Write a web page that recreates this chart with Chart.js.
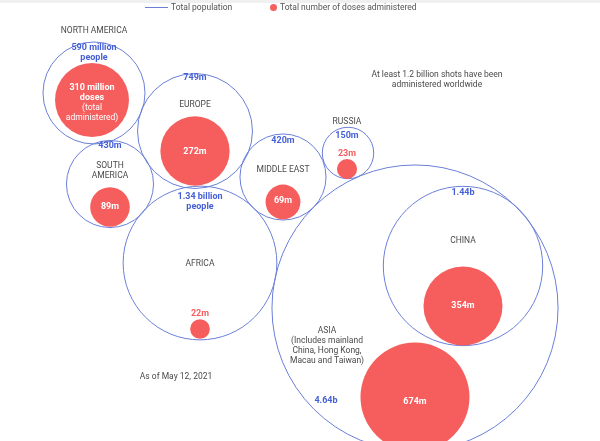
<!DOCTYPE html>
<html>
<head>
<meta charset="utf-8">
<script src="https://cdn.jsdelivr.net/npm/chart.js@4"></script>
<style>
  body { margin: 0; background: #fff; font-family: Roboto, "Noto Sans", sans-serif; }
  #wrap { position: relative; width: 600px; height: 441px; overflow: hidden; }
  #topbar { position: absolute; left: 0; top: 0; width: 600px; height: 3px; background: #f0f0f0; }
  .lg { position: absolute; font-size: 8.5px; color: #555; top: 2px; }
  #lgLine { position: absolute; left: 145px; top: 7px; width: 23px; height: 1px; background: #6a7fd8; }
  #lgDot { position: absolute; left: 270px; top: 4px; width: 7px; height: 7px; border-radius: 50%; background: #f65e5e; }
</style>
</head>
<body>
<div id="wrap">
  <canvas id="chart" width="600" height="441"></canvas>
  <div id="topbar"></div>
  <div id="lgLine"></div>
  <div class="lg" style="left:171px">Total population</div>
  <div id="lgDot"></div>
  <div class="lg" style="left:280px">Total number of doses administered</div>
</div>
<script>
  // values in millions, as of May 12, 2021
  const regions = ["North America", "Europe", "South America", "Africa", "Middle East", "Russia", "Asia", "China"];
  const population = [590, 749, 430, 1340, 420, 150, 4640, 1440];
  const doses = [310, 272, 89, 22, 69, 23, 674, 354];

  // where each bubble sits in the packed layout (axis units)
  const popX = [94, 195, 110, 200, 283, 348, 415, 463];
  const popY = [93, 131, 184, 263, 177, 153, 308, 266];
  const doseX = [92, 195, 110, 200, 283, 347, 415, 463];
  const doseY = [100, 151, 207, 329, 202, 169, 397, 306];

  const K = 2.1; // px per sqrt(million) -> bubble area follows value

  const BLUE = "#4560d6";
  const RED = "#f65e5e";
  const GRAY = "#4a4a4a";

  // text notes: [lines, x, y, color, bold]
  const notes = [
    [["NORTH AMERICA"], 94, 31, GRAY, false],
    [["590 million", "people"], 94, 48, BLUE, true],
    [["310 million", "doses"], 92, 88, "#fff", true],
    [["(total", "administered)"], 92, 108, "#fff", false],
    [["749m"], 195, 78, BLUE, true],
    [["EUROPE"], 195, 105, GRAY, false],
    [["272m"], 195, 152, "#fff", true],
    [["430m"], 110, 146, BLUE, true],
    [["SOUTH", "AMERICA"], 110, 166, GRAY, false],
    [["89m"], 110, 207, "#fff", true],
    [["1.34 billion", "people"], 200, 197, BLUE, true],
    [["AFRICA"], 200, 264, GRAY, false],
    [["22m"], 200, 314, RED, true],
    [["420m"], 283, 141, BLUE, true],
    [["MIDDLE EAST"], 283, 170, GRAY, false],
    [["69m"], 283, 201, "#fff", true],
    [["RUSSIA"], 347, 122, GRAY, false],
    [["150m"], 347, 136, BLUE, true],
    [["23m"], 347, 154, RED, true],
    [["1.44b"], 463, 193, BLUE, true],
    [["CHINA"], 463, 241, GRAY, false],
    [["354m"], 463, 306, "#fff", true],
    [["ASIA", "(Includes mainland", "China, Hong Kong,", "Macau and Taiwan)"], 327, 331, GRAY, false],
    [["4.64b"], 326, 401, BLUE, true],
    [["674m"], 415, 402, "#fff", true],
    [["At least 1.2 billion shots have been", "administered worldwide"], 437, 75, GRAY, false],
    [["As of May 12, 2021"], 176, 377, GRAY, false]
  ];

  const notesPlugin = {
    id: "notes",
    afterDatasetsDraw(chart) {
      const ctx = chart.ctx;
      const xs = chart.scales.x, ys = chart.scales.y;
      ctx.save();
      ctx.textAlign = "center";
      ctx.textBaseline = "middle";
      notes.forEach(([lines, x, y, color, bold]) => {
        ctx.fillStyle = color;
        ctx.font = (bold ? "bold 9px " : "8.5px ") + "Roboto, sans-serif";
        lines.forEach((t, i) => {
          ctx.fillText(t, xs.getPixelForValue(x), ys.getPixelForValue(y) + i * 10);
        });
      });
      ctx.restore();
    }
  };

  new Chart(document.getElementById("chart"), {
    type: "bubble",
    data: {
      datasets: [
        {
          label: "Total number of doses administered",
          data: doses.map((v, i) => ({ x: doseX[i], y: doseY[i], r: K * Math.sqrt(v) })),
          backgroundColor: RED,
          borderWidth: 0,
          order: 0
        },
        {
          label: "Total population",
          data: population.map((v, i) => ({ x: popX[i], y: popY[i], r: K * Math.sqrt(v) })),
          backgroundColor: "rgba(0,0,0,0)",
          borderColor: "#6a7fd8",
          borderWidth: 1,
          order: 1
        }
      ]
    },
    options: {
      responsive: false,
      animation: false,
      layout: { padding: 0, autoPadding: false },
      scales: {
        x: { type: "linear", min: 0, max: 600, display: false },
        y: { type: "linear", min: 0, max: 441, reverse: true, display: false }
      },
      plugins: {
        legend: { display: false },
        tooltip: { enabled: false }
      },
      clip: false
    },
    plugins: [notesPlugin]
  });
</script>
</body>
</html>
